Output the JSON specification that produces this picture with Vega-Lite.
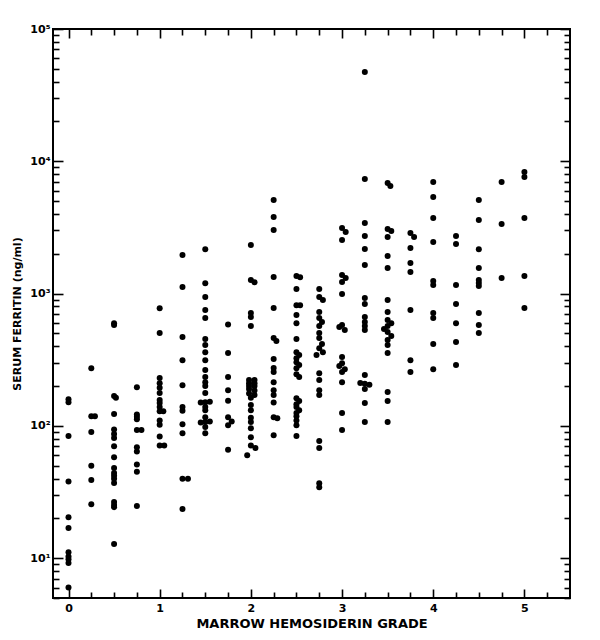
{
  "$schema": "https://vega.github.io/schema/vega-lite/v6.json",
  "width": 517,
  "height": 569,
  "autosize": {"type": "none"},
  "padding": {"left": 53, "top": 29, "right": 30, "bottom": 42},
  "background": "#ffffff",
  "config": {
    "view": {"stroke": "#000000", "strokeWidth": 2},
    "axis": {
      "domain": false,
      "grid": false,
      "tickColor": "#000000",
      "tickWidth": 1.6,
      "labelColor": "#000000",
      "titleColor": "#000000",
      "labelFont": "DejaVu Sans",
      "titleFont": "DejaVu Sans",
      "labelFontWeight": "bold",
      "titleFontWeight": "bold",
      "labelFlush": false,
      "labelOverlap": false
    }
  },
  "data": {
    "values": [
      {"grade": 0, "ferritin": 159}, {"grade": 0, "ferritin": 151}, {"grade": 0, "ferritin": 84}, {"grade": 0, "ferritin": 38}, {"grade": 0, "ferritin": 20.4}, {"grade": 0, "ferritin": 16.9}, {"grade": 0, "ferritin": 11.1}, {"grade": 0, "ferritin": 10.3}, {"grade": 0, "ferritin": 9.8}, {"grade": 0, "ferritin": 9.2}, {"grade": 0, "ferritin": 6.0},
      {"grade": 0.25, "ferritin": 273}, {"grade": 0.25, "ferritin": 118}, {"grade": 0.29, "ferritin": 118}, {"grade": 0.25, "ferritin": 90}, {"grade": 0.25, "ferritin": 50}, {"grade": 0.25, "ferritin": 39}, {"grade": 0.25, "ferritin": 25.6},
      {"grade": 0.5, "ferritin": 598}, {"grade": 0.5, "ferritin": 580}, {"grade": 0.5, "ferritin": 168}, {"grade": 0.52, "ferritin": 163}, {"grade": 0.5, "ferritin": 123}, {"grade": 0.5, "ferritin": 94}, {"grade": 0.5, "ferritin": 87}, {"grade": 0.5, "ferritin": 81}, {"grade": 0.5, "ferritin": 70}, {"grade": 0.5, "ferritin": 58}, {"grade": 0.5, "ferritin": 48}, {"grade": 0.5, "ferritin": 44}, {"grade": 0.5, "ferritin": 42}, {"grade": 0.5, "ferritin": 39.8}, {"grade": 0.5, "ferritin": 37}, {"grade": 0.5, "ferritin": 26.6}, {"grade": 0.5, "ferritin": 25.2}, {"grade": 0.5, "ferritin": 24.3}, {"grade": 0.5, "ferritin": 12.8},
      {"grade": 0.75, "ferritin": 196}, {"grade": 0.75, "ferritin": 122}, {"grade": 0.75, "ferritin": 117}, {"grade": 0.75, "ferritin": 112}, {"grade": 0.75, "ferritin": 93}, {"grade": 0.8, "ferritin": 93}, {"grade": 0.75, "ferritin": 69}, {"grade": 0.75, "ferritin": 64}, {"grade": 0.75, "ferritin": 51}, {"grade": 0.75, "ferritin": 45}, {"grade": 0.75, "ferritin": 24.8},
      {"grade": 1, "ferritin": 776}, {"grade": 1, "ferritin": 503}, {"grade": 1, "ferritin": 230}, {"grade": 1, "ferritin": 210}, {"grade": 1, "ferritin": 194}, {"grade": 1, "ferritin": 177}, {"grade": 1, "ferritin": 157}, {"grade": 1, "ferritin": 149}, {"grade": 1, "ferritin": 139}, {"grade": 1, "ferritin": 129}, {"grade": 1.04, "ferritin": 129}, {"grade": 1, "ferritin": 110}, {"grade": 1, "ferritin": 102}, {"grade": 1, "ferritin": 83}, {"grade": 1, "ferritin": 71}, {"grade": 1.05, "ferritin": 71},
      {"grade": 1.25, "ferritin": 1955}, {"grade": 1.25, "ferritin": 1123}, {"grade": 1.25, "ferritin": 469}, {"grade": 1.25, "ferritin": 314}, {"grade": 1.25, "ferritin": 203}, {"grade": 1.25, "ferritin": 139}, {"grade": 1.25, "ferritin": 130}, {"grade": 1.25, "ferritin": 103}, {"grade": 1.25, "ferritin": 88}, {"grade": 1.25, "ferritin": 39.8}, {"grade": 1.31, "ferritin": 39.8}, {"grade": 1.25, "ferritin": 23.5},
      {"grade": 1.5, "ferritin": 2168}, {"grade": 1.5, "ferritin": 1199}, {"grade": 1.5, "ferritin": 942}, {"grade": 1.5, "ferritin": 750}, {"grade": 1.5, "ferritin": 653}, {"grade": 1.5, "ferritin": 453}, {"grade": 1.5, "ferritin": 408}, {"grade": 1.5, "ferritin": 361}, {"grade": 1.5, "ferritin": 314}, {"grade": 1.5, "ferritin": 264}, {"grade": 1.5, "ferritin": 234}, {"grade": 1.5, "ferritin": 214}, {"grade": 1.5, "ferritin": 200}, {"grade": 1.5, "ferritin": 177}, {"grade": 1.5, "ferritin": 151}, {"grade": 1.45, "ferritin": 150}, {"grade": 1.55, "ferritin": 152}, {"grade": 1.5, "ferritin": 139}, {"grade": 1.5, "ferritin": 131}, {"grade": 1.5, "ferritin": 116}, {"grade": 1.5, "ferritin": 107}, {"grade": 1.45, "ferritin": 106}, {"grade": 1.55, "ferritin": 108}, {"grade": 1.5, "ferritin": 98}, {"grade": 1.5, "ferritin": 88},
      {"grade": 1.75, "ferritin": 583}, {"grade": 1.75, "ferritin": 356}, {"grade": 1.75, "ferritin": 234}, {"grade": 1.75, "ferritin": 186}, {"grade": 1.75, "ferritin": 155}, {"grade": 1.75, "ferritin": 116}, {"grade": 1.79, "ferritin": 108}, {"grade": 1.75, "ferritin": 101}, {"grade": 1.75, "ferritin": 66},
      {"grade": 2, "ferritin": 2327}, {"grade": 2, "ferritin": 1265}, {"grade": 2.04, "ferritin": 1220}, {"grade": 2, "ferritin": 713}, {"grade": 2, "ferritin": 664}, {"grade": 2, "ferritin": 568}, {"grade": 1.98, "ferritin": 222}, {"grade": 2.04, "ferritin": 222}, {"grade": 1.98, "ferritin": 210}, {"grade": 2.04, "ferritin": 210}, {"grade": 1.98, "ferritin": 200}, {"grade": 2.04, "ferritin": 200}, {"grade": 1.98, "ferritin": 190}, {"grade": 2.04, "ferritin": 185}, {"grade": 1.98, "ferritin": 176}, {"grade": 2.04, "ferritin": 171}, {"grade": 2, "ferritin": 163}, {"grade": 2, "ferritin": 144}, {"grade": 2, "ferritin": 131}, {"grade": 2, "ferritin": 115}, {"grade": 2, "ferritin": 107}, {"grade": 2, "ferritin": 96}, {"grade": 2, "ferritin": 82}, {"grade": 2, "ferritin": 71}, {"grade": 2.05, "ferritin": 68}, {"grade": 1.96, "ferritin": 60},
      {"grade": 2.25, "ferritin": 5093}, {"grade": 2.25, "ferritin": 3786}, {"grade": 2.25, "ferritin": 3020}, {"grade": 2.25, "ferritin": 1334}, {"grade": 2.25, "ferritin": 777}, {"grade": 2.25, "ferritin": 461}, {"grade": 2.28, "ferritin": 438}, {"grade": 2.25, "ferritin": 320}, {"grade": 2.25, "ferritin": 274}, {"grade": 2.25, "ferritin": 255}, {"grade": 2.25, "ferritin": 214}, {"grade": 2.25, "ferritin": 186}, {"grade": 2.25, "ferritin": 171}, {"grade": 2.25, "ferritin": 150}, {"grade": 2.25, "ferritin": 116}, {"grade": 2.29, "ferritin": 114}, {"grade": 2.25, "ferritin": 85},
      {"grade": 2.5, "ferritin": 1356}, {"grade": 2.54, "ferritin": 1330}, {"grade": 2.5, "ferritin": 1081}, {"grade": 2.5, "ferritin": 818}, {"grade": 2.54, "ferritin": 818}, {"grade": 2.5, "ferritin": 688}, {"grade": 2.5, "ferritin": 598}, {"grade": 2.5, "ferritin": 453}, {"grade": 2.5, "ferritin": 361}, {"grade": 2.53, "ferritin": 343}, {"grade": 2.5, "ferritin": 325}, {"grade": 2.5, "ferritin": 303}, {"grade": 2.53, "ferritin": 288}, {"grade": 2.5, "ferritin": 273}, {"grade": 2.5, "ferritin": 246}, {"grade": 2.53, "ferritin": 234}, {"grade": 2.5, "ferritin": 162}, {"grade": 2.53, "ferritin": 154}, {"grade": 2.5, "ferritin": 146}, {"grade": 2.5, "ferritin": 139}, {"grade": 2.53, "ferritin": 131}, {"grade": 2.5, "ferritin": 125}, {"grade": 2.5, "ferritin": 118}, {"grade": 2.5, "ferritin": 110}, {"grade": 2.5, "ferritin": 101}, {"grade": 2.5, "ferritin": 84},
      {"grade": 2.75, "ferritin": 1081}, {"grade": 2.75, "ferritin": 942}, {"grade": 2.79, "ferritin": 894}, {"grade": 2.75, "ferritin": 725}, {"grade": 2.75, "ferritin": 653}, {"grade": 2.78, "ferritin": 609}, {"grade": 2.75, "ferritin": 568}, {"grade": 2.75, "ferritin": 503}, {"grade": 2.75, "ferritin": 461}, {"grade": 2.78, "ferritin": 415}, {"grade": 2.75, "ferritin": 387}, {"grade": 2.79, "ferritin": 361}, {"grade": 2.72, "ferritin": 343}, {"grade": 2.75, "ferritin": 250}, {"grade": 2.75, "ferritin": 222}, {"grade": 2.75, "ferritin": 186}, {"grade": 2.75, "ferritin": 171}, {"grade": 2.75, "ferritin": 77}, {"grade": 2.75, "ferritin": 68}, {"grade": 2.75, "ferritin": 36.9}, {"grade": 2.75, "ferritin": 34.4},
      {"grade": 3, "ferritin": 3128}, {"grade": 3.04, "ferritin": 2917}, {"grade": 3, "ferritin": 2541}, {"grade": 3, "ferritin": 1381}, {"grade": 3.04, "ferritin": 1310}, {"grade": 3, "ferritin": 1222}, {"grade": 3, "ferritin": 991}, {"grade": 3, "ferritin": 578}, {"grade": 2.97, "ferritin": 558}, {"grade": 3.03, "ferritin": 530}, {"grade": 3, "ferritin": 331}, {"grade": 3, "ferritin": 298}, {"grade": 2.97, "ferritin": 283}, {"grade": 3.03, "ferritin": 268}, {"grade": 3, "ferritin": 255}, {"grade": 3, "ferritin": 214}, {"grade": 3, "ferritin": 125}, {"grade": 3, "ferritin": 93},
      {"grade": 3.25, "ferritin": 47300}, {"grade": 3.25, "ferritin": 7340}, {"grade": 3.25, "ferritin": 3410}, {"grade": 3.25, "ferritin": 2720}, {"grade": 3.25, "ferritin": 2170}, {"grade": 3.25, "ferritin": 1644}, {"grade": 3.25, "ferritin": 925}, {"grade": 3.25, "ferritin": 833}, {"grade": 3.25, "ferritin": 664}, {"grade": 3.25, "ferritin": 609}, {"grade": 3.25, "ferritin": 568}, {"grade": 3.25, "ferritin": 530}, {"grade": 3.25, "ferritin": 242}, {"grade": 3.2, "ferritin": 211}, {"grade": 3.25, "ferritin": 208}, {"grade": 3.3, "ferritin": 205}, {"grade": 3.25, "ferritin": 190}, {"grade": 3.25, "ferritin": 149}, {"grade": 3.25, "ferritin": 107},
      {"grade": 3.5, "ferritin": 6850}, {"grade": 3.53, "ferritin": 6500}, {"grade": 3.5, "ferritin": 3077}, {"grade": 3.54, "ferritin": 2972}, {"grade": 3.5, "ferritin": 2675}, {"grade": 3.5, "ferritin": 1923}, {"grade": 3.5, "ferritin": 1561}, {"grade": 3.5, "ferritin": 894}, {"grade": 3.5, "ferritin": 725}, {"grade": 3.5, "ferritin": 631}, {"grade": 3.54, "ferritin": 598}, {"grade": 3.5, "ferritin": 568}, {"grade": 3.46, "ferritin": 539}, {"grade": 3.5, "ferritin": 512}, {"grade": 3.54, "ferritin": 478}, {"grade": 3.5, "ferritin": 445}, {"grade": 3.5, "ferritin": 408}, {"grade": 3.5, "ferritin": 355}, {"grade": 3.5, "ferritin": 180}, {"grade": 3.5, "ferritin": 154}, {"grade": 3.5, "ferritin": 107},
      {"grade": 3.75, "ferritin": 2867}, {"grade": 3.79, "ferritin": 2675}, {"grade": 3.75, "ferritin": 2210}, {"grade": 3.75, "ferritin": 1702}, {"grade": 3.75, "ferritin": 1455}, {"grade": 3.75, "ferritin": 750}, {"grade": 3.75, "ferritin": 314}, {"grade": 3.75, "ferritin": 255},
      {"grade": 4, "ferritin": 6970}, {"grade": 4, "ferritin": 5370}, {"grade": 4, "ferritin": 3720}, {"grade": 4, "ferritin": 2450}, {"grade": 4, "ferritin": 1245}, {"grade": 4, "ferritin": 1160}, {"grade": 4, "ferritin": 713}, {"grade": 4, "ferritin": 653}, {"grade": 4, "ferritin": 415}, {"grade": 4, "ferritin": 268},
      {"grade": 4.25, "ferritin": 2720}, {"grade": 4.25, "ferritin": 2366}, {"grade": 4.25, "ferritin": 1160}, {"grade": 4.25, "ferritin": 833}, {"grade": 4.25, "ferritin": 598}, {"grade": 4.25, "ferritin": 430}, {"grade": 4.25, "ferritin": 288},
      {"grade": 4.5, "ferritin": 5093}, {"grade": 4.5, "ferritin": 3597}, {"grade": 4.5, "ferritin": 2168}, {"grade": 4.5, "ferritin": 1561}, {"grade": 4.5, "ferritin": 1265}, {"grade": 4.5, "ferritin": 1200}, {"grade": 4.5, "ferritin": 1140}, {"grade": 4.5, "ferritin": 713}, {"grade": 4.5, "ferritin": 578}, {"grade": 4.5, "ferritin": 503},
      {"grade": 4.75, "ferritin": 6970}, {"grade": 4.75, "ferritin": 3356}, {"grade": 4.75, "ferritin": 1310},
      {"grade": 5, "ferritin": 8290}, {"grade": 5, "ferritin": 7600}, {"grade": 5, "ferritin": 3720}, {"grade": 5, "ferritin": 1356}, {"grade": 5, "ferritin": 777}
    ]
  },
  "layer": [
    {
      "mark": {"type": "circle", "size": 36, "color": "#000000", "opacity": 1},
      "encoding": {
        "x": {
          "field": "grade", "type": "quantitative",
          "scale": {"domain": [-0.17, 5.5], "nice": false, "zero": false},
          "axis": {
            "orient": "bottom", "values": [0, 1, 2, 3, 4, 5], "format": "d",
            "tickSize": -9, "labelPadding": 13, "labelFontSize": 11,
            "title": "MARROW HEMOSIDERIN GRADE", "titleFontSize": 13, "titlePadding": 4
          }
        },
        "y": {
          "field": "ferritin", "type": "quantitative",
          "scale": {"type": "log", "domain": [5, 100000], "nice": false},
          "axis": {
            "orient": "left", "values": [10, 100, 1000, 10000, 100000],
            "labelExpr": "datum.value == 10 ? '10¹' : datum.value == 100 ? '10²' : datum.value == 1000 ? '10³' : datum.value == 10000 ? '10⁴' : '10⁵'",
            "tickSize": -10, "labelPadding": 13, "labelFontSize": 11,
            "title": "SERUM FERRITIN (ng/ml)", "titleFontSize": 11, "titlePadding": 7
          }
        }
      }
    },
    {
      "mark": {"type": "circle", "size": 1, "opacity": 0},
      "encoding": {
        "x": {
          "field": "grade", "type": "quantitative",
          "axis": {
            "orient": "bottom", "values": [0.25, 0.5, 0.75, 1.25, 1.5, 1.75, 2.25, 2.5, 2.75, 3.25, 3.5, 3.75, 4.25, 4.5, 4.75, 5.25],
            "tickSize": -6, "labels": false, "title": null
          }
        },
        "y": {
          "field": "ferritin", "type": "quantitative",
          "axis": {
            "orient": "left", "values": [5, 6, 7, 8, 9, 20, 30, 40, 50, 60, 70, 80, 90, 200, 300, 400, 500, 600, 700, 800, 900, 2000, 3000, 4000, 5000, 6000, 7000, 8000, 9000, 20000, 30000, 40000, 50000, 60000, 70000, 80000, 90000],
            "tickSize": -6, "labels": false, "title": null
          }
        }
      }
    },
    {
      "mark": {"type": "circle", "size": 1, "opacity": 0},
      "encoding": {
        "x": {
          "field": "grade", "type": "quantitative",
          "axis": {"orient": "top", "values": [0, 1, 2, 3, 4, 5], "tickSize": -9, "labels": false, "title": null}
        },
        "y": {
          "field": "ferritin", "type": "quantitative",
          "axis": {"orient": "right", "values": [10, 100, 1000, 10000, 100000], "tickSize": -10, "labels": false, "title": null}
        }
      }
    },
    {
      "mark": {"type": "circle", "size": 1, "opacity": 0},
      "encoding": {
        "x": {
          "field": "grade", "type": "quantitative",
          "axis": {
            "orient": "top", "values": [0.25, 0.5, 0.75, 1.25, 1.5, 1.75, 2.25, 2.5, 2.75, 3.25, 3.5, 3.75, 4.25, 4.5, 4.75, 5.25],
            "tickSize": -6, "labels": false, "title": null
          }
        },
        "y": {
          "field": "ferritin", "type": "quantitative",
          "axis": {
            "orient": "right", "values": [5, 6, 7, 8, 9, 20, 30, 40, 50, 60, 70, 80, 90, 200, 300, 400, 500, 600, 700, 800, 900, 2000, 3000, 4000, 5000, 6000, 7000, 8000, 9000, 20000, 30000, 40000, 50000, 60000, 70000, 80000, 90000],
            "tickSize": -6, "labels": false, "title": null
          }
        }
      }
    }
  ],
  "resolve": {"axis": {"x": "independent", "y": "independent"}}
}
